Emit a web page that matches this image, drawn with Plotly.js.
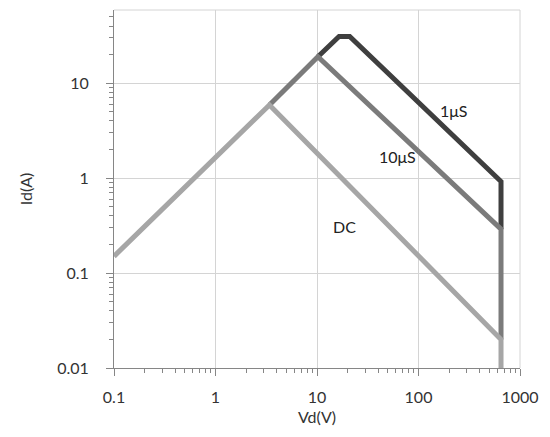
<!DOCTYPE html>
<html>
<head>
<meta charset="utf-8">
<script src="https://cdn.plot.ly/plotly-3.0.1.min.js"></script>
<style>html,body{margin:0;padding:0;background:#fff;}#chart{width:550px;height:437px;}</style>
</head>
<body>
<div id="chart"></div>
<script>
// Safe operating area curves (log-log); visible portion of each curve
// (pulse curves share the DC / 10μS segments where they overlap)
const vd_1us  = [10.2, 16.5, 21, 650, 650];
const id_1us  = [19, 31, 31, 0.92, 0.29];
const vd_10us = [3.4, 10.2, 650, 650];
const id_10us = [5.9, 19, 0.29, 0.02];
const vd_dc   = [0.1, 3.4, 650, 650];
const id_dc   = [0.15, 5.9, 0.02, 0.01];

const labels   = ["1μS", "10μS", "DC"];
const labelVd  = [225, 62, 18.7];
const labelId  = [5.2, 1.68, 0.31];

const xTicks = [0.1, 1, 10, 100, 1000];
const xTickText = ["0.1", "1", "10", "100", "1000"];
const yTicks = [0.01, 0.1, 1, 10];
const yTickText = ["0.01", "0.1", "1", "10"];

const colors = {"1μS": "#3f3f3f", "10μS": "#7b7b7b", "DC": "#a6a6a6"};
const font = "Lato, 'Open Sans', sans-serif";

const traces = [
  {x: vd_1us, y: id_1us, name: "1μS"},
  {x: vd_10us, y: id_10us, name: "10μS"},
  {x: vd_dc, y: id_dc, name: "DC"}
].map(t => Object.assign(t, {
  type: "scatter", mode: "lines",
  line: {color: colors[t.name], width: 5, shape: "linear"},
  hoverinfo: "skip"
}));

const layout = {
  width: 550, height: 437,
  margin: {l: 114, r: 30, t: 10, b: 69},
  paper_bgcolor: "#fff", plot_bgcolor: "#fff",
  showlegend: false,
  font: {family: font, size: 16, color: "#333"},
  xaxis: {
    type: "log", range: [-1, 3],
    tickvals: xTicks, ticktext: xTickText,
    ticks: "outside", ticklen: 7, tickcolor: "#868686", tickwidth: 1,
    showline: true, linecolor: "#868686", linewidth: 1,
    showgrid: true, gridcolor: "#d4d4d4", gridwidth: 1,
    zeroline: false,
    ticklabelstandoff: 8,
    minor: {ticks: "outside", ticklen: 4, tickcolor: "#868686", showgrid: false,
            tickvals: [0.2,0.3,0.4,0.5,0.6,0.7,0.8,0.9,2,3,4,5,6,7,8,9,20,30,40,50,60,70,80,90,200,300,400,500,600,700,800,900]},
    title: {text: "Vd(V)", font: {family: font, size: 16, color: "#333"}, standoff: 6}
  },
  yaxis: {
    type: "log", range: [-2, Math.log10(59)],
    tickvals: yTicks, ticktext: yTickText,
    ticks: "outside", ticklen: 7, tickcolor: "#868686", tickwidth: 1,
    showline: true, linecolor: "#868686", linewidth: 1,
    showgrid: true, gridcolor: "#d4d4d4", gridwidth: 1,
    zeroline: false,
    ticklabelstandoff: 14,
    minor: {ticks: "outside", ticklen: 4, tickcolor: "#868686", showgrid: false,
            tickvals: [0.02,0.03,0.04,0.05,0.06,0.07,0.08,0.09,0.2,0.3,0.4,0.5,0.6,0.7,0.8,0.9,2,3,4,5,6,7,8,9,20,30,40,50]},
    title: {text: "Id(A)", font: {family: font, size: 16, color: "#333"}, standoff: 20}
  },
  shapes: [
    {type: "line", xref: "paper", yref: "paper", x0: 0, x1: 1, y0: 1, y1: 1, line: {color: "#d4d4d4", width: 1}, layer: "below"},
    {type: "line", xref: "paper", yref: "paper", x0: 1, x1: 1, y0: 0, y1: 1, line: {color: "#d4d4d4", width: 1}, layer: "below"}
  ],
  annotations: labels.map((t, i) => ({
    x: Math.log10(labelVd[i]), y: Math.log10(labelId[i]),
    xref: "x", yref: "y", text: t, showarrow: false,
    font: {family: font, size: 16, color: "#222"}
  }))
};

Plotly.newPlot("chart", traces, layout, {displayModeBar: false, staticPlot: true});
</script>
</body>
</html>
